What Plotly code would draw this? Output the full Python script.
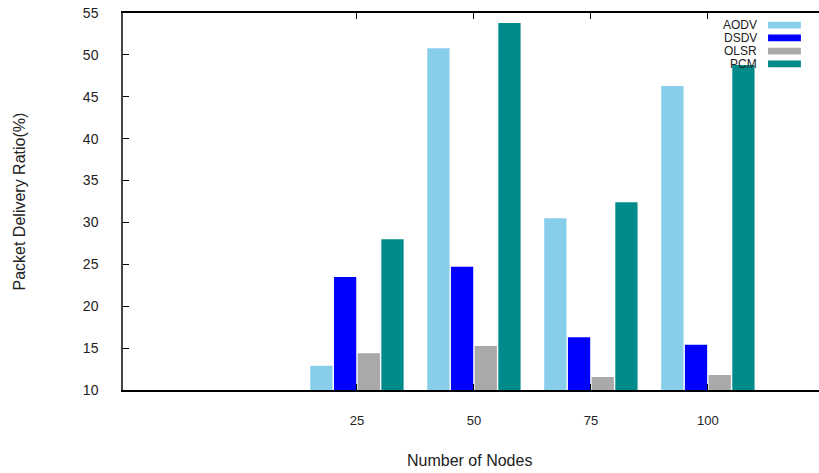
import plotly.graph_objects as go

categories = ["25", "50", "75", "100"]
series_names = ["AODV", "DSDV", "OLSR", "PCM"]
aodv = [12.9, 50.8, 30.5, 46.3]
dsdv = [23.5, 24.7, 16.3, 15.4]
olsr = [14.4, 15.25, 11.55, 11.8]
pcm = [28.0, 53.8, 32.4, 48.8]
y_ticks = [10, 15, 20, 25, 30, 35, 40, 45, 50, 55]
colors = ["#87CEEB", "#0000FF", "#A9A9A9", "#008B8B"]

values = [aodv, dsdv, olsr, pcm]
FONT = "Liberation Sans, Arial, sans-serif"

fig = go.Figure()
for name, vals, col in zip(series_names, values, colors):
    fig.add_trace(go.Bar(
        x=categories, y=vals, name=name, showlegend=False,
        marker=dict(color=col, line=dict(width=0)),
    ))

# manual gnuplot-style legend (text right, sample to the right)
row_y = [0.968, 0.934, 0.899, 0.865]
for name, col, yy in zip(series_names, colors, row_y):
    fig.add_annotation(x=0.914, y=yy, xref="paper", yref="paper",
                       text=name, showarrow=False, xanchor="right", yanchor="middle",
                       font=dict(family=FONT, size=12, color="#222"))
    fig.add_shape(type="rect", xref="paper", yref="paper",
                  x0=0.9268, x1=0.974, y0=yy - 0.009, y1=yy + 0.009,
                  fillcolor=col, line=dict(width=0))

# axis titles
fig.add_annotation(x=0.4975, y=-0.186, xref="paper", yref="paper",
                   text="Number of Nodes", showarrow=False,
                   xanchor="center", yanchor="middle",
                   font=dict(family=FONT, size=16, color="#222"))
fig.add_annotation(x=-0.148, y=0.5, xref="paper", yref="paper",
                   text="Packet Delivery Ratio(%)", showarrow=False, textangle=-90,
                   xanchor="center", yanchor="middle",
                   font=dict(family=FONT, size=16, color="#222"))

fig.update_layout(
    width=819, height=473,
    margin=dict(l=123, r=0, t=13, b=83),
    paper_bgcolor="white", plot_bgcolor="white",
    barmode="group", bargap=0.19, bargroupgap=0.06,
    font=dict(family=FONT, size=13, color="#222"),
    xaxis=dict(
        type="category", range=[-2, 3.95], automargin=False,
        showline=True, linecolor="black", linewidth=1.5, mirror="ticks",
        ticks="inside", ticklen=6, tickcolor="black",
        showgrid=False, zeroline=False,
        ticklabelstandoff=18,
        tickfont=dict(family=FONT, size=13, color="#222"),
    ),
    yaxis=dict(
        range=[10, 55], tickvals=y_ticks, automargin=False,
        showline=True, linecolor="#444", linewidth=1.5, mirror=False,
        ticks="inside", ticklen=6, tickcolor="black",
        showgrid=False, zeroline=False,
        ticklabelstandoff=20, ticklabeloverflow="allow",
        tickfont=dict(family=FONT, size=14, color="#222"),
    ),
)

fig.write_html(
    "out.html",
    config={"displayModeBar": False},
    post_script=("document.documentElement.style.margin='0';"
                 "document.documentElement.style.overflow='hidden';"
                 "document.body.style.margin='0';"
                 "document.body.style.overflow='hidden';"),
)
